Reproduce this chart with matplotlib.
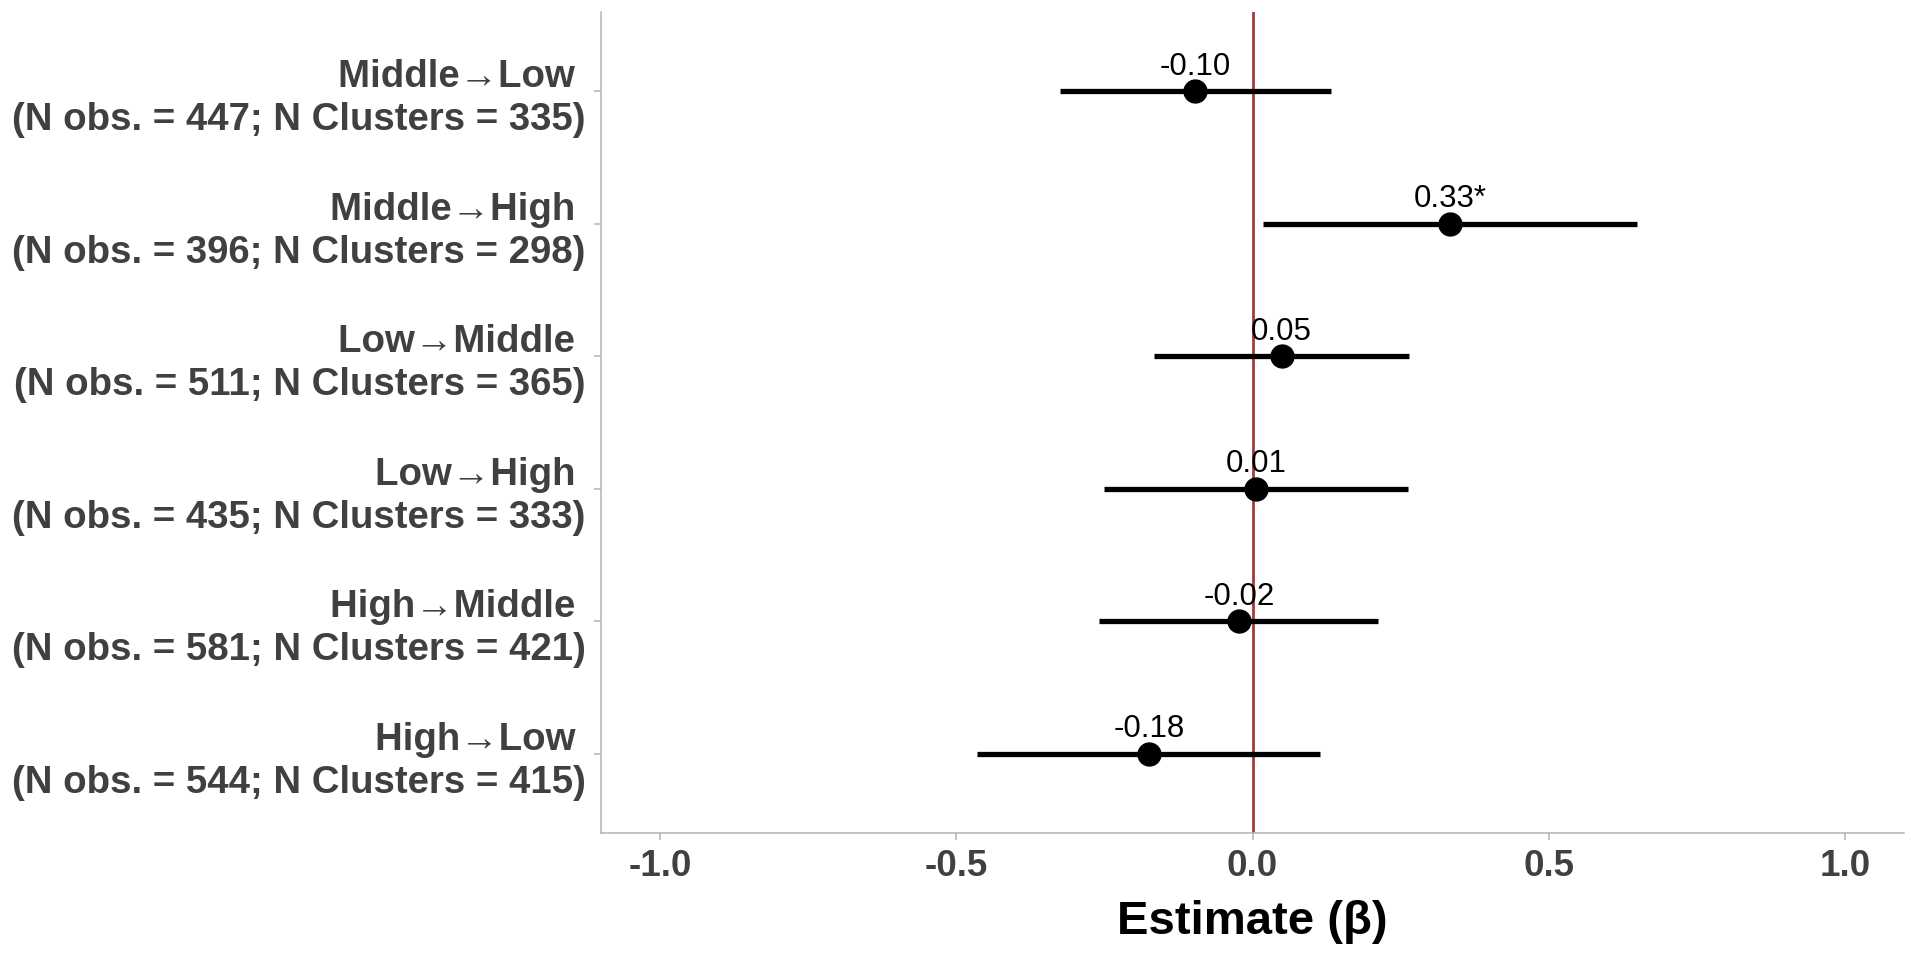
import matplotlib
matplotlib.use("Agg")
import matplotlib.pyplot as plt
import numpy as np

plt.rcParams['font.family'] = ['Liberation Sans', 'DejaVu Sans']

# Daten (von oben nach unten)
transitions = ["Middle\u2192Low", "Middle\u2192High", "Low\u2192Middle",
               "Low\u2192High", "High\u2192Middle", "High\u2192Low"]
nObs = [447, 396, 511, 435, 581, 544]
nClusters = [335, 298, 365, 333, 421, 415]
estimates = [-0.097, 0.333, 0.049, 0.006, -0.023, -0.175]
ciLow = [-0.325, 0.018, -0.166, -0.251, -0.259, -0.465]
ciHigh = [0.132, 0.649, 0.264, 0.263, 0.2125, 0.1145]
estLabels = ["-0.10", "0.33*", "0.05", "0.01", "-0.02", "-0.18"]
xTicks = [-1.0, -0.5, 0.0, 0.5, 1.0]

labelGrey = "#404040"
spineGrey = "#b3b3b3"

fig = plt.figure(figsize=(19.2, 9.6), dpi=100)
ax = fig.add_axes([0.313, 0.132, 0.9917 - 0.313, 0.9875 - 0.132])

yPos = np.arange(len(transitions), 0, -1)

ax.axvline(0, color="#a33b3b", linewidth=2.0, zorder=1)
ax.hlines(yPos, ciLow, ciHigh, color="black", linewidth=3.8, zorder=2)
ax.plot(estimates, yPos, "o", color="black", markersize=16.5, zorder=3)

for x, y, lab in zip(estimates, yPos, estLabels):
    ax.annotate(lab, (x, y), xytext=(0, 12), textcoords="offset points",
                ha="center", va="baseline", fontsize=22.5, color="black", zorder=4)

yLabels = []
for t, n, c in zip(transitions, nObs, nClusters):
    yLabels.append(t + " \n(N obs. = %d; N Clusters = %d)" % (n, c))

ax.set_yticks(yPos)
ax.set_yticklabels(yLabels, fontsize=27.6, fontweight="bold", color=labelGrey,
                   linespacing=1.25)
ax.set_xticks(xTicks)
ax.set_xticklabels(["%.1f" % v for v in xTicks], fontsize=26.5, fontweight="bold",
                   color=labelGrey)
ax.set_xlim(-1.1, 1.1)
ax.set_ylim(0.4, len(transitions) + 0.6)

ax.set_xlabel("Estimate (\u03b2)", fontsize=34, fontweight="bold", color="black",
              labelpad=12)

for side in ["top", "right"]:
    ax.spines[side].set_visible(False)
for side in ["left", "bottom"]:
    ax.spines[side].set_color(spineGrey)
    ax.spines[side].set_linewidth(1.1)
ax.tick_params(axis="both", color=spineGrey, length=5, width=1.1)
ax.tick_params(axis="y", pad=6)
ax.tick_params(axis="x", pad=6)

fig.savefig("out.png", dpi=100, facecolor="white")
